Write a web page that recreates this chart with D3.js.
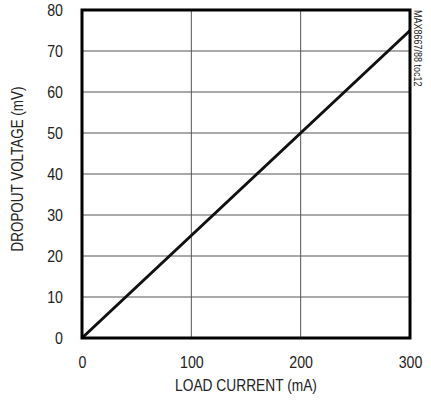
<!DOCTYPE html>
<html><head><meta charset="utf-8">
<script src="https://cdn.jsdelivr.net/npm/d3@7"></script>
<style>body{margin:0;background:#fff}text{font-family:"Liberation Sans",Arial,sans-serif;fill:#222}</style>
</head><body><svg id="c" width="431" height="402"></svg>
<script>
const loadCurrent = [0, 100, 200, 300];
const dropout = [0, 25, 50, 75];
const xTicks = [0, 100, 200, 300];
const yTicks = [0, 10, 20, 30, 40, 50, 60, 70, 80];
const xTitle = "LOAD CURRENT (mA)";
const yTitle = "DROPOUT VOLTAGE (mV)";
const note = "MAX8667/88 toc12";

const svg = d3.select("#c");
const L = 82, R = 410, T = 10, B = 338;
const S = 0.86; // horizontal condensing of text
const x = d3.scaleLinear().domain([0, 300]).range([L, R]);
const y = d3.scaleLinear().domain([0, 80]).range([B, T]);

const g = svg.append("g");
g.selectAll(".vg").data(xTicks.slice(1, -1)).enter().append("line")
  .attr("x1", d => x(d)).attr("x2", d => x(d)).attr("y1", T).attr("y2", B)
  .attr("stroke", "#555").attr("stroke-width", 1);
g.selectAll(".hg").data(yTicks.slice(1, -1)).enter().append("line")
  .attr("y1", d => y(d)).attr("y2", d => y(d)).attr("x1", L).attr("x2", R)
  .attr("stroke", "#555").attr("stroke-width", 1);

svg.append("path").datum(loadCurrent.map((v, i) => [v, dropout[i]]))
  .attr("d", d3.line().x(d => x(d[0])).y(d => y(d[1])))
  .attr("fill", "none").attr("stroke", "#111").attr("stroke-width", 3);

svg.append("rect").attr("x", L).attr("y", T).attr("width", R - L).attr("height", B - T)
  .attr("fill", "none").attr("stroke", "#000").attr("stroke-width", 3);

const xa = svg.append("g").attr("transform", `translate(0,${B})`)
  .call(d3.axisBottom(x).tickValues(xTicks).tickSize(0).tickPadding(18));
xa.select(".domain").remove();
xa.selectAll("text").attr("font-size", 16.5).style("font-family", null)
  .attr("transform", `scale(${S},1)`);

const ya = svg.append("g").attr("transform", `translate(${L},0)`)
  .call(d3.axisLeft(y).tickValues(yTicks).tickSize(0).tickPadding(19));
ya.select(".domain").remove();
ya.selectAll("text").attr("font-size", 16.5).style("font-family", null)
  .attr("x", -19 / S).attr("dy", "0.36em").attr("transform", `scale(${S},1)`);

svg.append("text").attr("transform", `translate(${(L + R) / 2},391) scale(${S},1)`)
  .attr("text-anchor", "middle").attr("font-size", 16).text(xTitle);
svg.append("text").attr("transform", `translate(23,169) rotate(-90) scale(0.84,1)`)
  .attr("text-anchor", "middle").attr("font-size", 16).text(yTitle);
svg.append("text").attr("transform", `translate(414,${T}) rotate(90) scale(0.82,1)`)
  .attr("font-size", 11).text(note);
</script></body></html>
